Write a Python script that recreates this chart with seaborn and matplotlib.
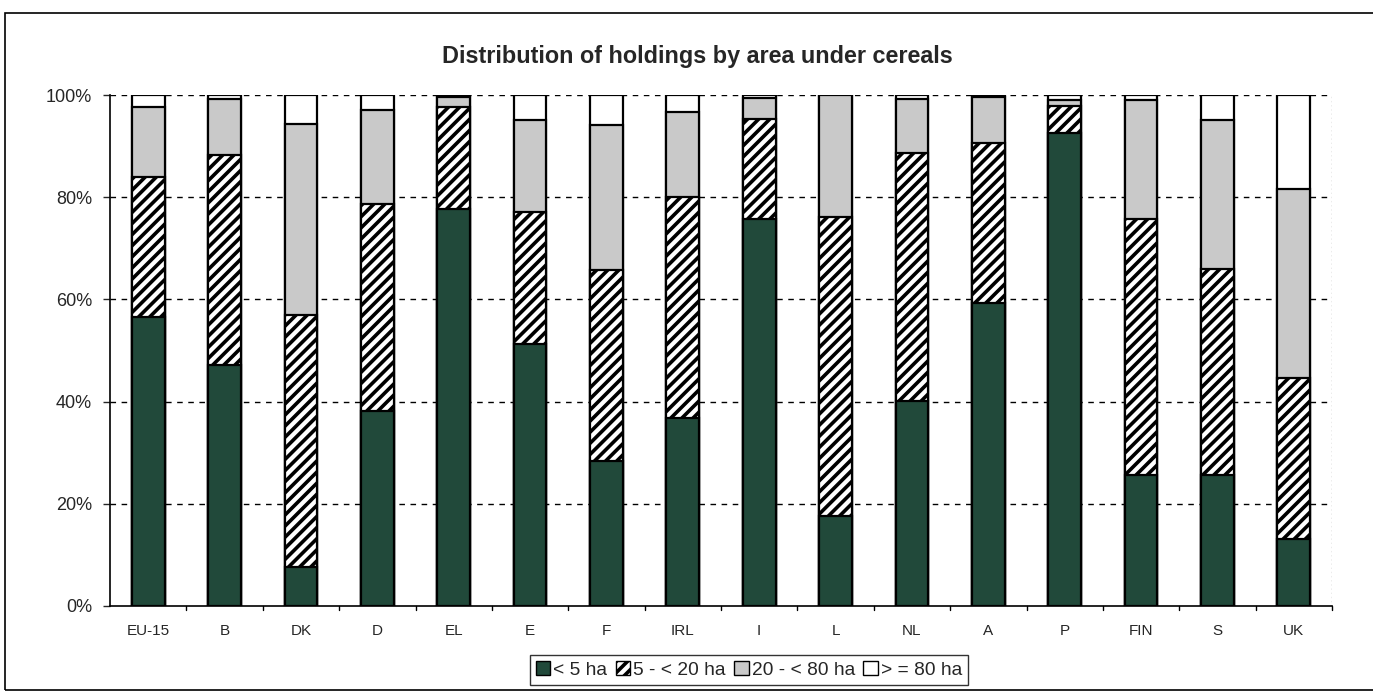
import matplotlib
matplotlib.use("Agg")
import matplotlib.pyplot as plt
import seaborn as sns
import pandas as pd
import numpy as np
from matplotlib.patches import Patch, Rectangle

countries = ["EU-15", "B", "DK", "D", "EL", "E", "F", "IRL", "I", "L", "NL", "A", "P", "FIN", "S", "UK"]
lt5 = [56.5, 47.2, 7.6, 38.1, 77.6, 51.2, 28.3, 36.7, 75.8, 17.6, 40.1, 59.3, 92.5, 25.6, 25.6, 13.1]
s5_20 = [27.5, 41.1, 49.3, 40.5, 20.0, 26.0, 37.4, 43.4, 19.6, 58.5, 48.6, 31.4, 5.3, 50.2, 40.4, 31.5]
s20_80 = [13.6, 11.0, 37.5, 18.4, 2.1, 17.9, 28.4, 16.5, 4.1, 23.9, 10.5, 9.0, 1.2, 23.2, 29.1, 37.1]
ge80 = [2.4, 0.7, 5.6, 3.0, 0.3, 4.9, 5.9, 3.4, 0.5, 0.0, 0.8, 0.3, 1.0, 1.0, 4.9, 18.3]
labels = ["< 5 ha", "5 - < 20 ha", "20 - < 80 ha", "> = 80 ha"]

sns.set_style("white")
plt.rcParams["font.family"] = ["Liberation Sans", "DejaVu Sans"]
plt.rcParams["hatch.linewidth"] = 2.6

c1 = np.array(lt5)
c2 = c1 + np.array(s5_20)
c3 = c2 + np.array(s20_80)
c4 = c3 + np.array(ge80)
df = pd.DataFrame({"country": countries, "c1": c1, "c2": c2, "c3": c3, "c4": c4})

W, H = 1373, 693
fig = plt.figure(figsize=(W / 100, H / 100), dpi=100)
ax = fig.add_axes([110 / W, 1 - 606 / H, (1332 - 110) / W, (606 - 95) / H])

green = "#21493a"
grey = "#c9c9c9"
layers = [("c4", "white", None), ("c3", grey, None), ("c2", "white", "///"), ("c1", green, None)]
for i, (col, color, hatch) in enumerate(layers):
    sns.barplot(data=df, x="country", y=col, ax=ax, color=color, width=0.43,
                edgecolor="black", linewidth=1.6, hatch=hatch, saturation=1,
                zorder=3 + i, errorbar=None)

ax.set_ylim(0, 100)
ax.set_xlim(-0.5, len(countries) - 0.5)
ax.set_yticks([0, 20, 40, 60, 80, 100])
ax.set_yticklabels([f"{v}%" for v in [0, 20, 40, 60, 80, 100]], fontsize=13)
ax.set_xlabel("")
ax.set_ylabel("")
ax.tick_params(axis="x", length=0, labelsize=11, pad=13)
ax.tick_params(axis="y", length=5, width=1, direction="out", left=True, pad=8)
for b in np.arange(0.5, len(countries), 1.0):
    ax.plot([b, b], [0, -0.8], color="black", lw=1, clip_on=False, zorder=10)
for y in [20, 40, 60, 80, 100]:
    ax.axhline(y, color="black", lw=1, ls=(0, (4, 4)), zorder=1)
for s in ["top", "right"]:
    ax.spines[s].set_visible(False)
ax.spines["left"].set_color("black")
ax.spines["bottom"].set_color("black")
ax.spines["left"].set_linewidth(1.2)
ax.spines["bottom"].set_linewidth(1.2)
ax.axvline(len(countries) - 0.5, color="#999999", lw=1, ls=(0, (1, 2)), zorder=1)

fig.text(697 / W, 1 - 57 / H, "Distribution of holdings by area under cereals",
         ha="center", va="center", fontsize=16.8, fontweight="bold")

handles = [Patch(facecolor=green, edgecolor="black", label=labels[0]),
           Patch(facecolor="white", edgecolor="black", hatch="///", label=labels[1]),
           Patch(facecolor=grey, edgecolor="black", label=labels[2]),
           Patch(facecolor="white", edgecolor="black", label=labels[3])]
leg = fig.legend(handles=handles, loc="center", bbox_to_anchor=(749 / W, 1 - 670 / H),
                 ncol=4, fontsize=13.8, frameon=True, fancybox=False, edgecolor="black",
                 handlelength=0.75, handleheight=0.75, handletextpad=0.15, columnspacing=0.45,
                 borderpad=0.3)
leg.get_frame().set_linewidth(1.0)

fig.patches.append(Rectangle((5 / W, 3 / H), 1.0, 1 - 16 / H, transform=fig.transFigure,
                             fill=False, edgecolor="black", lw=1.2))

fig.savefig("out.png", dpi=100)
